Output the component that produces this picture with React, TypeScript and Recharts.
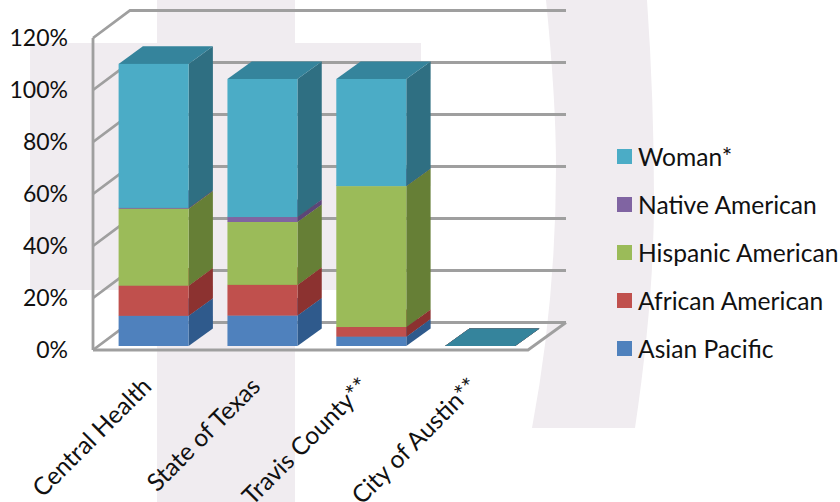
import { BarChart, Bar, XAxis, YAxis, CartesianGrid, Legend } from 'recharts';

const categories = ['Central Health', 'State of Texas', 'Travis County**', 'City of Austin**'];
const asianPacific = [11.6, 11.7, 3.6, 0];
const africanAmerican = [11.6, 11.8, 3.7, 0];
const hispanicAmerican = [29.6, 24.2, 54.2, 0];
const nativeAmerican = [0.3, 1.9, 0, 0];
const woman = [55.4, 53.1, 41.2, 0];
const percentTicks = [0, 20, 40, 60, 80, 100, 120];

const data = categories.map((name, i) => ({
  name,
  asian: asianPacific[i],
  african: africanAmerican[i],
  hispanic: hispanicAmerican[i],
  native: nativeAmerican[i],
  woman: woman[i],
}));

const FONT = 'Lato, sans-serif';
const WALL = '#9f9f9f';
const DEPTH_X = 24.3;
const DEPTH_Y = 17.6;
const PLOT_TOP = 34;
const PLOT_BOTTOM = 346;

// darker faces of the 3D boxes: [side, top]
const faces: Record<string, [string, string]> = {
  '#4f81bd': ['#2f5a8c', '#3a6597'],
  '#c0504d': ['#8c3230', '#9a3c39'],
  '#9bbb59': ['#667f36', '#76913f'],
  '#8064a2': ['#5c4678', '#5c4678'],
  '#4bacc6': ['#2f6f82', '#35849c'],
};

function Box3D(props: any) {
  const { x, y, width, height, fill } = props;
  const [side, top] = faces[fill];
  const b = y + height;
  const r = x + width;
  return (
    <g>
      <polygon
        points={`${r},${y} ${r + DEPTH_X},${y - DEPTH_Y} ${r + DEPTH_X},${b - DEPTH_Y} ${r},${b}`}
        fill={side}
      />
      <polygon
        points={`${x},${y} ${x + DEPTH_X},${y - DEPTH_Y} ${r + DEPTH_X},${y - DEPTH_Y} ${r},${y}`}
        fill={top}
      />
      <rect x={x} y={y} width={width} height={height} fill={fill} />
    </g>
  );
}

// each grid line becomes a left wall diagonal plus a back wall line
function WallLine(props: any) {
  const { y1 } = props;
  const front = y1 + 4;
  const back = y1 - 23.5;
  const isFloor = Math.abs(y1 - PLOT_BOTTOM) < 1;
  const isTop = Math.abs(y1 - PLOT_TOP) < 1;
  return (
    <g stroke={WALL} strokeWidth={2.8} fill="none">
      <polyline points={`93,${front} 130,${back} 566,${back}`} />
      {isFloor && <polyline points={`93,${front} 528,${front} 566,${back}`} />}
      {isTop && <line x1={93} y1={front} x2={93} y2={PLOT_BOTTOM + 4} />}
    </g>
  );
}

function PercentTick(props: any) {
  const { y, payload } = props;
  return (
    <text x={68} y={y + 4} dy={8} textAnchor="end" fontFamily={FONT} fontSize={23} fill="#111">
      {payload.value}%
    </text>
  );
}

function CategoryTick(props: any) {
  const { x, payload } = props;
  return (
    <text
      x={x - 1}
      y={388}
      textAnchor="end"
      fontFamily={FONT}
      fontSize={24.5}
      fill="#111"
      transform={`rotate(-45 ${x - 1} 388)`}
    >
      {payload.value}
    </text>
  );
}

function LegendList(props: any) {
  const items = [...(props.payload ?? [])].reverse();
  return (
    <div style={{ fontFamily: FONT, fontSize: 24.6, color: '#111' }}>
      {items.map((item: any) => (
        <div key={item.value} style={{ display: 'flex', alignItems: 'center', height: 48.2, whiteSpace: 'nowrap' }}>
          <span style={{ width: 15, height: 15, background: item.color, marginRight: 6 }} />
          {item.value}
        </div>
      ))}
    </div>
  );
}

export default function App() {
  return (
    <div style={{ position: 'absolute', left: 0, top: 0, width: 840, height: 502, overflow: 'hidden', background: '#fff' }}>
      {/* faint logo behind the chart */}
      <svg width={840} height={502} style={{ position: 'absolute', left: 0, top: 0 }}>
        <g fill="#f0ecf0">
          <rect x={157} y={0} width={138} height={502} />
          <rect x={30} y={43} width={391} height={247} />
          <path d="M546,0 Q556,100 556,167 Q556,300 532,428 L635,428 Q654,300 654,200 Q654,100 647,0 Z" />
        </g>
      </svg>
      <BarChart
        width={840}
        height={502}
        data={data}
        margin={{ top: PLOT_TOP, right: 305, left: 0, bottom: 96 }}
        style={{ position: 'absolute', left: 0, top: 0 }}
      >
        <CartesianGrid vertical={false} horizontal={(p: any) => <WallLine key={p.index ?? p.y1} {...p} />} />
        <XAxis dataKey="name" height={60} interval={0} axisLine={false} tickLine={false} tick={CategoryTick} />
        <YAxis
          width={99.6}
          domain={[0, 120]}
          ticks={percentTicks}
          axisLine={false}
          tickLine={false}
          tick={PercentTick}
        />
        <Legend
          layout="vertical"
          align="center"
          verticalAlign="middle"
          itemSorter={null}
          content={LegendList}
          wrapperStyle={{ left: 617, top: 132, width: 223, height: 241 }}
        />
        <Bar dataKey="asian" name="Asian Pacific" stackId="a" barSize={70} fill="#4f81bd" shape={Box3D} isAnimationActive={false} />
        <Bar dataKey="african" name="African American" stackId="a" barSize={70} fill="#c0504d" shape={Box3D} isAnimationActive={false} />
        <Bar dataKey="hispanic" name="Hispanic American" stackId="a" barSize={70} fill="#9bbb59" shape={Box3D} isAnimationActive={false} />
        <Bar dataKey="native" name="Native American" stackId="a" barSize={70} fill="#8064a2" shape={Box3D} isAnimationActive={false} />
        <Bar dataKey="woman" name="Woman*" stackId="a" barSize={70} fill="#4bacc6" shape={Box3D} isAnimationActive={false} />
      </BarChart>
    </div>
  );
}
